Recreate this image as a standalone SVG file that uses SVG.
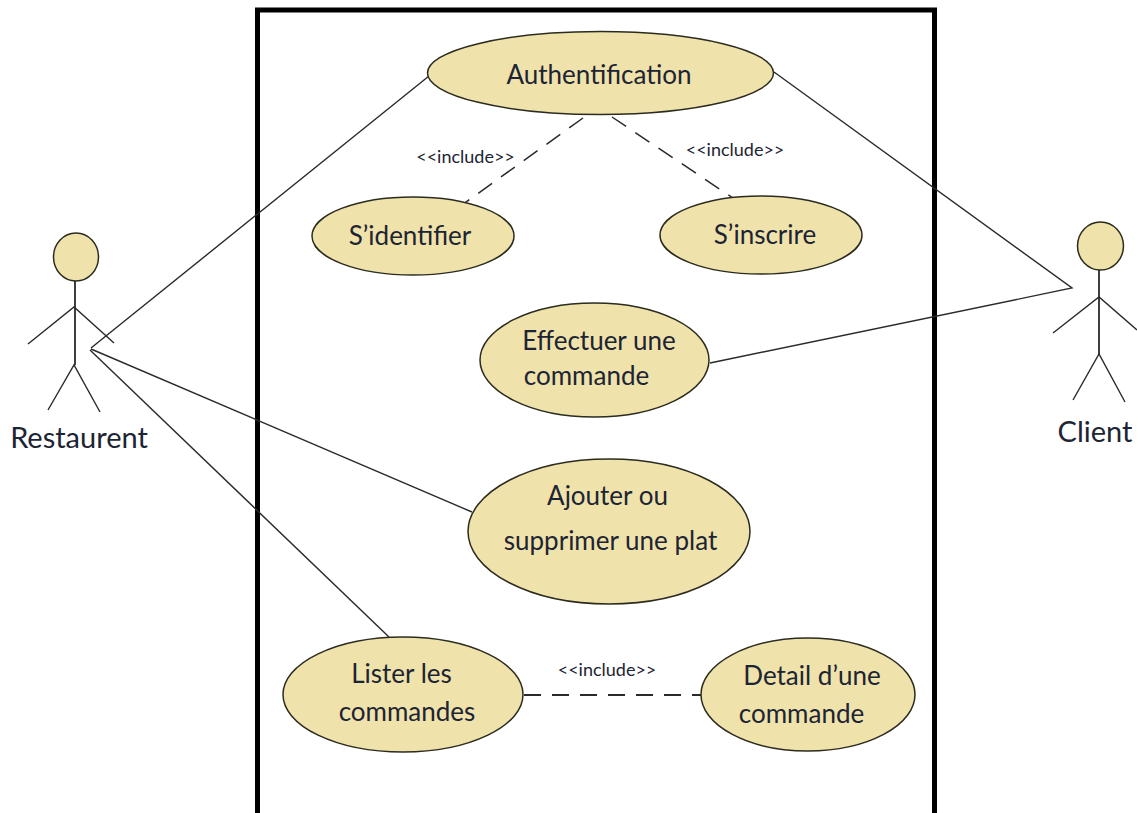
<svg xmlns="http://www.w3.org/2000/svg" width="1137" height="813" viewBox="0 0 1137 813">
<style>
.uc{fill:#efe2ab;stroke:#2b2b1f;stroke-width:1.5}
.ln{fill:none;stroke:#2a2a2a;stroke-width:1.4}
.dash{fill:none;stroke:#2a2a2a;stroke-width:1.5;stroke-dasharray:17 11}
.t{font-family:"Lato","Carlito","Open Sans",sans-serif;fill:#1d2433;text-anchor:middle}
.m{font-size:26px}
.s{font-size:18px}
.a{font-size:29px}
</style>
<rect width="1137" height="813" fill="#fff"/>
<rect id="system" x="257.500" y="10" width="677" height="830" fill="none" stroke="#000" stroke-width="5"/>
<g id="connectors">
<path class="ln" d="M91 348L429 76"/>
<path class="ln" d="M91 349L472 512"/>
<path class="ln" d="M90 350L389 637"/>
<path class="ln" d="M774 72L1072 288L710 363"/>
<path class="dash" d="M583 118L462 205"/>
<path class="dash" d="M612 117L733 198"/>
<path class="dash" style="stroke-width:2" d="M524 695H702"/>
</g>
<g id="authentification"><ellipse class="uc" cx="600.500" cy="73" rx="173" ry="41.500"/><text class="t m" x="599" y="84">Authentification</text></g>
<g id="identifier"><ellipse class="uc" cx="413" cy="236" rx="101" ry="39"/><text class="t m" x="410" y="245">S’identifier</text></g>
<g id="inscrire"><ellipse class="uc" cx="761" cy="235" rx="101" ry="39"/><text class="t m" x="765" y="244">S’inscrire</text></g>
<g id="effectuer"><ellipse class="uc" cx="594.500" cy="360" rx="114.500" ry="57"/><text class="t m" x="599" y="350">Effectuer une</text><text class="t m" x="586.500" y="385">commande</text></g>
<g id="ajouter"><ellipse class="uc" cx="609" cy="531.500" rx="141" ry="72.500"/><text class="t m" x="607.500" y="505">Ajouter ou</text><text class="t m" x="610.500" y="550">supprimer une plat</text></g>
<g id="lister"><ellipse class="uc" cx="403" cy="694.500" rx="120" ry="57.500"/><text class="t m" x="401.500" y="683">Lister les</text><text class="t m" x="407" y="721">commandes</text></g>
<g id="detail"><ellipse class="uc" cx="808" cy="694.500" rx="107" ry="56.500"/><text class="t m" x="812" y="685">Detail d’une</text><text class="t m" x="801.500" y="723">commande</text></g>
<g id="labels">
<text class="t s" x="465.500" y="163">&lt;&lt;include&gt;&gt;</text>
<text class="t s" x="735" y="156">&lt;&lt;include&gt;&gt;</text>
<text class="t s" x="607" y="676">&lt;&lt;include&gt;&gt;</text>
</g>
<g id="restaurent">
<ellipse class="uc" cx="76" cy="257" rx="22.500" ry="24"/>
<path class="ln" style="stroke-width:1.800" d="M75 281V365"/>
<path class="ln" d="M28 344L74 307L114 343M48 410L74 365L100 412"/>
<text class="t a" x="79" y="448">Restaurent</text>
</g>
<g id="client">
<ellipse class="uc" cx="1100.500" cy="246" rx="23" ry="24"/>
<path class="ln" style="stroke-width:1.800" d="M1099 270V354"/>
<path class="ln" d="M1053 333L1099 297L1137 330M1073 400L1099 354L1125 402"/>
<text class="t a" x="1095" y="442">Client</text>
</g>
</svg>
